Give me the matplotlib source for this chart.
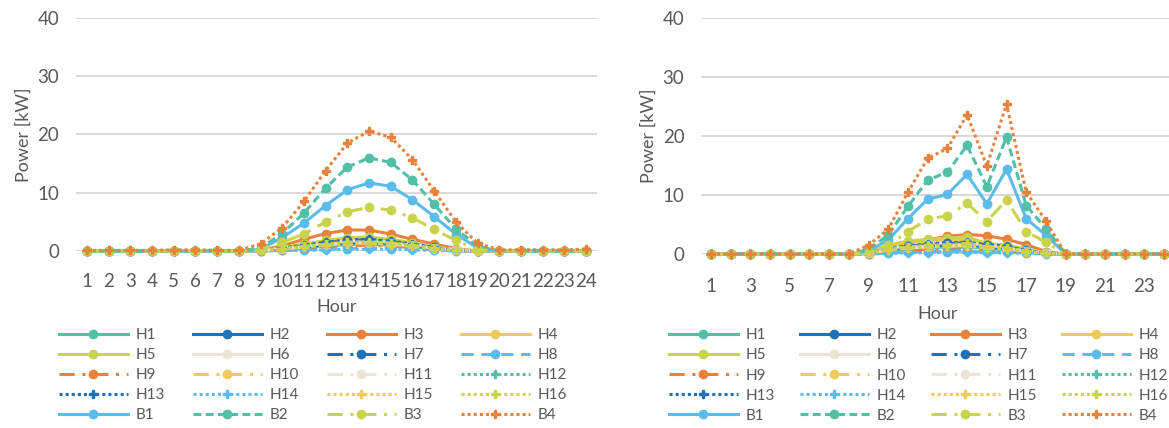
import matplotlib
matplotlib.use("Agg")
import matplotlib.pyplot as plt
import numpy as np

plt.rcParams['font.family'] = ['Lato', 'DejaVu Sans']

hours = list(range(1, 25))
names = ['H1', 'H2', 'H3', 'H4', 'H5', 'H6', 'H7', 'H8', 'H9', 'H10', 'H11',
         'H12', 'H13', 'H14', 'H15', 'H16', 'B1', 'B2', 'B3', 'B4']

# left chart (day a)
h1_a = [0, 0, 0, 0, 0, 0, 0, 0, 0.1, 0.3, 0.6, 0.9, 1.1, 1.2, 1.0, 0.7, 0.4, 0.1, 0, 0, 0, 0, 0, 0]
h2_a = [0, 0, 0, 0, 0, 0, 0, 0, 0.1, 0.3, 0.7, 1.1, 1.4, 1.5, 1.3, 0.9, 0.5, 0.1, 0, 0, 0, 0, 0, 0]
h3_a = [0, 0, 0, 0, 0, 0, 0, 0, 0.1, 0.9, 2.0, 3.0, 3.6, 3.6, 2.9, 2.0, 1.2, 0.4, 0, 0, 0, 0, 0, 0]
h4_a = [0, 0, 0, 0, 0, 0, 0, 0, 0.1, 0.5, 1.0, 1.6, 2.0, 2.1, 1.8, 1.2, 0.6, 0.1, 0, 0, 0, 0, 0, 0]
h5_a = [0, 0, 0, 0, 0, 0, 0, 0, 0.1, 0.6, 1.2, 1.8, 2.3, 2.4, 2.0, 1.4, 0.7, 0.2, 0, 0, 0, 0, 0, 0]
h6_a = [0, 0, 0, 0, 0, 0, 0, 0, 0.1, 0.4, 0.9, 1.3, 1.7, 1.8, 1.5, 1.1, 0.6, 0.2, 0, 0, 0, 0, 0, 0]
h7_a = [0, 0, 0, 0, 0, 0, 0, 0, 0.1, 0.4, 0.9, 1.4, 1.8, 1.9, 1.6, 1.1, 0.6, 0.1, 0, 0, 0, 0, 0, 0]
h8_a = [0, 0, 0, 0, 0, 0, 0, 0, 0, 0.1, 0.2, 0.3, 0.4, 0.5, 0.4, 0.3, 0.2, 0, 0, 0, 0, 0, 0, 0]
h9_a = [0, 0, 0, 0, 0, 0, 0, 0, 0, 0.2, 0.5, 0.7, 0.9, 1.0, 0.8, 0.6, 0.3, 0.1, 0, 0, 0, 0, 0, 0]
h10_a = [0, 0, 0, 0, 0, 0, 0, 0, 0.1, 0.4, 0.8, 1.2, 1.5, 1.6, 1.4, 1.0, 0.5, 0.1, 0, 0, 0, 0, 0, 0]
h11_a = [0, 0, 0, 0, 0, 0, 0, 0, 0.1, 0.3, 0.7, 1.1, 1.3, 1.4, 1.2, 0.9, 0.5, 0.1, 0, 0, 0, 0, 0, 0]
h12_a = [0, 0, 0, 0, 0, 0, 0, 0, 0.1, 0.3, 0.6, 0.9, 1.1, 1.2, 1.0, 0.8, 0.4, 0.1, 0, 0, 0, 0, 0, 0]
h13_a = [0, 0, 0, 0, 0, 0, 0, 0, 0.1, 0.5, 1.0, 1.5, 1.9, 2.0, 1.7, 1.2, 0.6, 0.1, 0, 0, 0, 0, 0, 0]
h14_a = [0, 0, 0, 0, 0, 0, 0, 0, 0, 0.1, 0.1, 0.2, 0.3, 0.3, 0.3, 0.2, 0.1, 0, 0, 0, 0, 0, 0, 0]
h15_a = [0, 0, 0, 0, 0, 0, 0, 0, 0.1, 0.3, 0.7, 1.0, 1.2, 1.3, 1.1, 0.8, 0.4, 0.1, 0, 0, 0, 0, 0, 0]
h16_a = [0, 0, 0, 0, 0, 0, 0, 0, 0.1, 0.4, 0.8, 1.2, 1.5, 1.6, 1.4, 1.0, 0.5, 0.1, 0, 0, 0, 0, 0, 0]
b1_a = [0, 0, 0, 0, 0, 0, 0, 0, 0.3, 2.3, 4.8, 7.8, 10.5, 11.7, 11.1, 8.8, 5.9, 2.9, 0.5, 0, 0, 0, 0, 0]
b2_a = [0, 0, 0, 0, 0, 0, 0, 0, 0.5, 3.0, 6.5, 10.8, 14.4, 16.0, 15.2, 12.2, 8.0, 3.8, 0.8, 0, 0, 0, 0, 0]
b3_a = [0, 0, 0, 0, 0, 0, 0, 0, 0.2, 1.5, 2.9, 5.0, 6.7, 7.5, 7.0, 5.7, 3.7, 1.8, 0.2, 0, 0, 0, 0, 0]
b4_a = [0.1, 0.1, 0.1, 0.1, 0.2, 0.2, 0.1, 0.1, 1.2, 4.0, 8.5, 13.8, 18.5, 20.6, 19.5, 15.7, 10.3, 5.0, 1.3, 0.2, 0.2, 0.2, 0.2, 0.3]

# right chart (day b)
h1_b = [0, 0, 0, 0, 0, 0, 0, 0, 0.1, 0.6, 0.9, 1.1, 1.2, 1.3, 0.9, 0.8, 0.4, 0.1, 0, 0, 0, 0, 0, 0]
h2_b = [0, 0, 0, 0, 0, 0, 0, 0, 0.1, 0.8, 1.2, 1.4, 1.5, 1.7, 1.1, 1.0, 0.5, 0.1, 0, 0, 0, 0, 0, 0]
h3_b = [0, 0, 0, 0, 0, 0, 0, 0, 0.2, 1.0, 1.8, 2.4, 3.0, 3.3, 3.1, 2.5, 1.6, 0.4, 0, 0, 0, 0, 0, 0]
h4_b = [0, 0, 0, 0, 0, 0, 0, 0, 0.2, 1.2, 1.8, 2.2, 2.3, 2.5, 1.6, 1.4, 0.7, 0.1, 0, 0, 0, 0, 0, 0]
h5_b = [0, 0, 0, 0, 0, 0, 0, 0, 0.3, 1.5, 2.2, 2.5, 2.7, 2.9, 1.8, 1.5, 0.8, 0.2, 0, 0, 0, 0, 0, 0]
h6_b = [0, 0, 0, 0, 0, 0, 0, 0, 0.1, 0.9, 1.4, 1.7, 1.9, 2.0, 1.4, 1.2, 0.6, 0.1, 0, 0, 0, 0, 0, 0]
h7_b = [0, 0, 0, 0, 0, 0, 0, 0, 0.1, 0.9, 1.3, 1.6, 1.8, 1.9, 1.5, 1.2, 0.6, 0.1, 0, 0, 0, 0, 0, 0]
h8_b = [0, 0, 0, 0, 0, 0, 0, 0, 0, 0.2, 0.3, 0.4, 0.4, 0.5, 0.3, 0.3, 0.2, 0, 0, 0, 0, 0, 0, 0]
h9_b = [0, 0, 0, 0, 0, 0, 0, 0, 0, 0.5, 0.7, 0.8, 0.9, 1.0, 0.7, 0.6, 0.3, 0.1, 0, 0, 0, 0, 0, 0]
h10_b = [0, 0, 0, 0, 0, 0, 0, 0, 0.1, 0.8, 1.2, 1.4, 1.5, 1.7, 1.2, 1.1, 0.5, 0.1, 0, 0, 0, 0, 0, 0]
h11_b = [0, 0, 0, 0, 0, 0, 0, 0, 0.1, 0.7, 1.0, 1.2, 1.3, 1.5, 1.1, 0.9, 0.5, 0.1, 0, 0, 0, 0, 0, 0]
h12_b = [0, 0, 0, 0, 0, 0, 0, 0, 0.1, 0.6, 0.9, 1.0, 1.1, 1.2, 0.9, 0.8, 0.4, 0.1, 0, 0, 0, 0, 0, 0]
h13_b = [0, 0, 0, 0, 0, 0, 0, 0, 0.1, 1.0, 1.4, 1.7, 1.9, 2.0, 1.6, 1.3, 0.6, 0.1, 0, 0, 0, 0, 0, 0]
h14_b = [0, 0, 0, 0, 0, 0, 0, 0, 0, 0.1, 0.2, 0.2, 0.3, 0.3, 0.2, 0.2, 0.1, 0, 0, 0, 0, 0, 0, 0]
h15_b = [0, 0, 0, 0, 0, 0, 0, 0, 0.1, 0.7, 1.0, 1.2, 1.3, 1.4, 1.0, 0.9, 0.4, 0.1, 0, 0, 0, 0, 0, 0]
h16_b = [0, 0, 0, 0, 0, 0, 0, 0, 0.1, 0.9, 1.2, 1.5, 1.6, 1.8, 1.3, 1.1, 0.5, 0.1, 0, 0, 0, 0, 0, 0]
b1_b = [0, 0, 0, 0, 0, 0, 0, 0, 0.5, 2.4, 6.0, 9.3, 10.1, 13.5, 8.5, 14.4, 6.0, 3.2, 0, 0, 0, 0, 0, 0]
b2_b = [0, 0, 0, 0, 0, 0, 0, 0, 0.8, 3.2, 8.1, 12.5, 13.9, 18.4, 11.4, 19.8, 8.2, 4.3, 0, 0, 0, 0, 0, 0]
b3_b = [0, 0, 0, 0, 0, 0, 0, 0, 0.3, 1.5, 3.8, 5.9, 6.5, 8.6, 5.5, 9.2, 3.8, 2.0, 0, 0, 0, 0, 0, 0]
b4_b = [0, 0, 0, 0, 0, 0, 0, 0, 1.5, 4.2, 10.5, 16.2, 17.9, 23.6, 14.9, 25.4, 10.5, 5.6, 0, 0, 0, 0, 0, 0]

series_a = [h1_a, h2_a, h3_a, h4_a, h5_a, h6_a, h7_a, h8_a, h9_a, h10_a, h11_a,
            h12_a, h13_a, h14_a, h15_a, h16_a, b1_a, b2_a, b3_a, b4_a]
series_b = [h1_b, h2_b, h3_b, h4_b, h5_b, h6_b, h7_b, h8_b, h9_b, h10_b, h11_b,
            h12_b, h13_b, h14_b, h15_b, h16_b, b1_b, b2_b, b3_b, b4_b]

teal = '#52BFA7'
dblue = '#1F72B8'
orange = '#E8823A'
yellow = '#F0CA5A'
ygreen = '#C9D34C'
beige = '#E9E4D4'
lblue = '#5BBCEB'

solid = '-'
dashdot = (0, (5, 2.5, 1, 2.5))
longdash = (0, (4, 2.5))
shortdash = (0, (2.6, 1.4))
dotted = (0, (1, 1))

styles = [
    (teal, solid, 'o'), (dblue, solid, 'o'), (orange, solid, 'o'), (yellow, solid, 'o'),
    (ygreen, solid, 'o'), (beige, solid, 'o'), (dblue, dashdot, 'o'), (lblue, longdash, 'o'),
    (orange, dashdot, 'o'), (yellow, dashdot, 'o'), (beige, dashdot, 'o'), (teal, dotted, 'P'),
    (dblue, dotted, 'P'), (lblue, dotted, 'P'), (yellow, dotted, 'P'), (ygreen, dotted, 'P'),
    (lblue, solid, 'o'), (teal, shortdash, 'o'), (ygreen, dashdot, 'o'), (orange, dotted, 'P'),
]

grey = '#595959'
fig = plt.figure(figsize=(11.69, 4.28), dpi=100)
ax1 = fig.add_axes([0.065, 0.4136, 0.4457, 0.5444])
ax2 = fig.add_axes([0.5997, 0.4065, 0.4046, 0.5515])

# legend filled row by row like Excel
order = [r * 4 + c for c in range(4) for r in range(5)]

setup = [(ax1, series_a, hours, 16, 6, (-0.033, -0.33), 1.85),
         (ax2, series_b, hours[::2], 17, 8, (-0.068, -0.315), 1.65)]
for ax, series, xticks, xpad, hpad, anchor, colsp in setup:
    for name, vals, (c, ls, mk) in zip(names, series, styles):
        ax.plot(hours, vals, color=c, linestyle=ls, lw=2.2, marker=mk, markersize=6,
                label=name, clip_on=False, zorder=3)
    ax.set_xlim(0.5, 24.5)
    ax.set_ylim(0, 40)
    ax.set_yticks([0, 10, 20, 30, 40])
    ax.set_xticks(xticks)
    ax.grid(axis='y', color='#D9D9D9', lw=1.5)
    ax.set_axisbelow(True)
    for s in ax.spines.values():
        s.set_visible(False)
    ax.tick_params(length=0, labelsize=13.5, colors=grey)
    ax.tick_params(axis='x', pad=xpad)
    ax.tick_params(axis='y', pad=12)
    ax.set_xlabel('Hour', fontsize=13, color=grey, labelpad=hpad)
    ax.set_ylabel('Power [kW]', fontsize=13, color=grey, labelpad=4)
    h, l = ax.get_legend_handles_labels()
    ax.legend([h[i] for i in order], [l[i] for i in order], loc='upper left',
              bbox_to_anchor=anchor, ncol=4, frameon=False, fontsize=11,
              labelcolor=grey, handlelength=4.5, handletextpad=0.5,
              columnspacing=colsp, labelspacing=0.4, borderaxespad=0, borderpad=0)

fig.savefig('out.png', dpi=100)
